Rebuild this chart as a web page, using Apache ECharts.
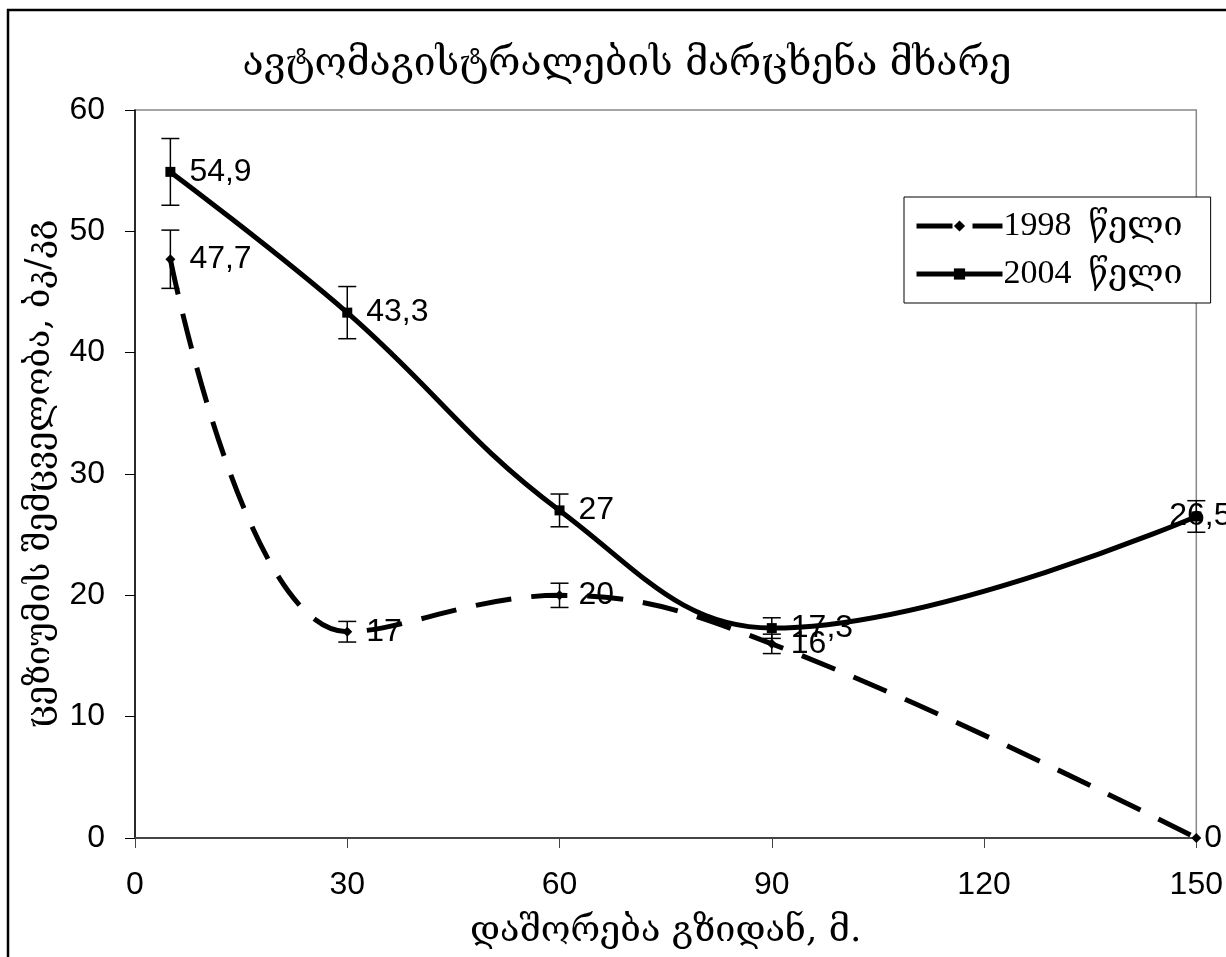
<!DOCTYPE html>
<html>
<head>
<meta charset="utf-8">
<script src="https://cdn.jsdelivr.net/npm/echarts@6/dist/echarts.min.js"></script>
<style>
    html, body { margin: 0; padding: 0; background: #fff; }
    #chart { width: 1226px; height: 957px; }
</style>
</head>
<body>
<div id="chart"></div>
<script>
// distance from road, m.
const distances = [5, 30, 60, 90, 150];
const values1998 = [47.7, 17, 20, 16, 0];
const values2004 = [54.9, 43.3, 27, 17.3, 26.5];
// error bar half-heights
const err1998 = [2.4, 0.85, 1.0, 0.8, 0];
const err2004 = [2.75, 2.15, 1.35, 0.85, 1.3];
const xTicks = [0, 30, 60, 90, 120, 150];
const yTicks = [0, 10, 20, 30, 40, 50, 60];

const serif = '"Liberation Serif", "DejaVu Serif", serif';
const geo = '"DejaVu Serif", serif';
const sans = '"Liberation Sans", Arial, sans-serif';

let myChart = echarts.init(document.getElementById('chart'));

function pairs(xs, ys) {
    return xs.map((x, i) => [x, ys[i]]);
}
function errData(xs, ys, es) {
    return xs.map((x, i) => [x, ys[i], es[i]]);
}

// 误差线
function renderErr(params, api) {
    let x = api.value(0), y = api.value(1), e = api.value(2);
    if (!e) {
        return null;
    }
    let top = api.coord([x, y + e]);
    let bot = api.coord([x, y - e]);
    let w = 9;
    let style = {stroke: '#000', lineWidth: 1.5};
    return {
        type: 'group',
        children: [
            {type: 'line', shape: {x1: top[0], y1: top[1], x2: bot[0], y2: bot[1]}, style: style},
            {type: 'line', shape: {x1: top[0] - w, y1: top[1], x2: top[0] + w, y2: top[1]}, style: style},
            {type: 'line', shape: {x1: bot[0] - w, y1: bot[1], x2: bot[0] + w, y2: bot[1]}, style: style}
        ]
    };
}

const labelFmt = p => String(p.value[1]).replace('.', ',');

// labels at the right edge are pulled in, as in the original
const last = distances.length - 1;
let data1998 = pairs(distances, values1998).map((v, i) => i === last
    ? {value: v, label: {distance: 3}}
    : v);
let data2004 = pairs(distances, values2004).map((v, i) => i === last
    ? {value: v, label: {position: 'inside', offset: [4, 0]}}
    : v);

myChart.setOption({
    animation: false,
    backgroundColor: '#fff',
    title: {
        text: 'ავტომაგისტრალების მარცხენა მხარე',
        left: 622,
        textAlign: 'center',
        top: 40,
        textStyle: {
            fontFamily: geo,
            fontSize: 39,
            fontWeight: 'normal',
            color: '#000'
        }
    },
    graphic: [
        {type: 'line', shape: {x1: 7, y1: 10, x2: 1226, y2: 10}, style: {stroke: '#000', lineWidth: 2.5}},
        {type: 'line', shape: {x1: 8, y1: 9, x2: 8, y2: 957}, style: {stroke: '#000', lineWidth: 2.5}}
    ],
    legend: {
        orient: 'vertical',
        left: 904,
        top: 197,
        padding: [12, 28, 12, 10],
        itemGap: 14,
        itemWidth: 86,
        itemHeight: 14,
        backgroundColor: '#fff',
        borderColor: '#000',
        borderWidth: 1,
        lineStyle: {width: 5},
        data: ['1998 წელი', '2004 წელი'],
        formatter: name => name.replace(' ', '  '),
        textStyle: {
            fontFamily: serif,
            fontSize: 34,
            color: '#000',
            padding: [0, 0, 0, -4]
        }
    },
    grid: {
        left: 135,
        right: 29,
        top: 110,
        bottom: 119,
        show: true,
        borderColor: '#888',
        borderWidth: 1.5
    },
    xAxis: {
        type: 'value',
        min: xTicks[0],
        max: xTicks[xTicks.length - 1],
        interval: 30,
        name: 'დაშორება გზიდან, მ.',
        nameLocation: 'middle',
        nameGap: 76,
        nameTextStyle: {fontFamily: geo, fontSize: 36, color: '#000'},
        axisLine: {lineStyle: {color: '#444', width: 2}},
        axisTick: {show: true, length: 10, lineStyle: {color: '#444', width: 1}},
        axisLabel: {margin: 31, fontFamily: sans, fontSize: 32, color: '#000'},
        splitLine: {show: false}
    },
    yAxis: {
        type: 'value',
        min: yTicks[0],
        max: yTicks[yTicks.length - 1],
        interval: 10,
        name: 'ცეზიუმის შემცველობა, ბკ/კგ',
        nameLocation: 'middle',
        nameGap: 78,
        nameTextStyle: {fontFamily: geo, fontSize: 34, color: '#000'},
        axisLine: {lineStyle: {color: '#000', width: 1.5}},
        axisTick: {show: true, length: 10, lineStyle: {color: '#000', width: 1}},
        axisLabel: {margin: 30, fontFamily: sans, fontSize: 32, color: '#000'},
        splitLine: {show: false}
    },
    series: [
        {
            name: '1998 წელი',
            type: 'line',
            smooth: 0.4,
            symbol: 'diamond',
            symbolSize: 10,
            itemStyle: {color: '#000'},
            lineStyle: {color: '#000', width: 5, type: [36, 20]},
            label: {
                show: true,
                position: 'right',
                distance: 14,
                formatter: labelFmt,
                fontFamily: sans,
                fontSize: 32,
                color: '#000'
            },
            data: data1998,
            z: 3
        },
        {
            name: '2004 წელი',
            type: 'line',
            smooth: 0.4,
            symbol: 'rect',
            symbolSize: 10,
            itemStyle: {color: '#000'},
            lineStyle: {color: '#000', width: 5},
            label: {
                show: true,
                position: 'right',
                distance: 14,
                formatter: labelFmt,
                fontFamily: sans,
                fontSize: 32,
                color: '#000'
            },
            data: data2004,
            z: 3
        },
        {
            type: 'custom',
            renderItem: renderErr,
            data: errData(distances, values1998, err1998),
            z: 4
        },
        {
            type: 'custom',
            renderItem: renderErr,
            data: errData(distances, values2004, err2004),
            z: 4
        }
    ]
});
</script>
</body>
</html>
